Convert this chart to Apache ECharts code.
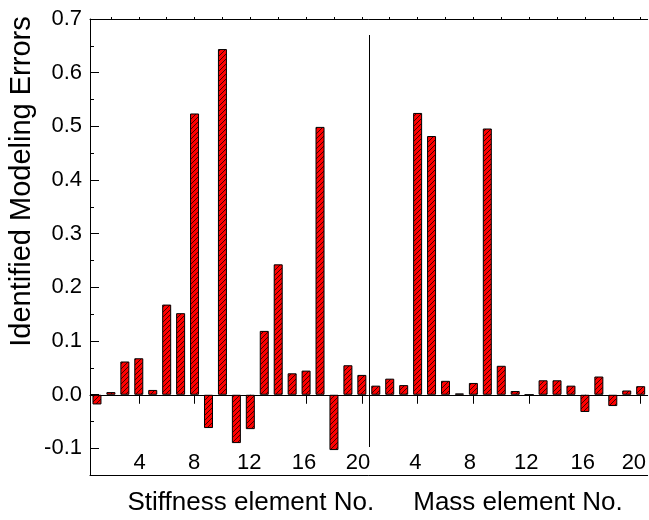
<!DOCTYPE html>
<html>
<head>
<meta charset="utf-8">
<script src="https://cdn.jsdelivr.net/npm/echarts@6/dist/echarts.min.js"></script>
<style>html,body{margin:0;padding:0;background:#fff}#c{width:649px;height:520px}</style>
</head>
<body>
<div id="c"></div>
<script>
// ---- data ----
const stiffnessElements = ['1','2','3','4','5','6','7','8','9','10','11','12','13','14','15','16','17','18','19','20'];
const massElements = ['1','2','3','4','5','6','7','8','9','10','11','12','13','14','15','16','17','18','19','20'];
const stiffnessErrors = [-0.018, 0.005, 0.062, 0.068, 0.009, 0.168, 0.152, 0.524, -0.062, 0.644,
                         -0.090, -0.064, 0.119, 0.243, 0.040, 0.045, 0.499, -0.103, 0.055, 0.037];
const massErrors = [0.017, 0.030, 0.018, 0.525, 0.482, 0.026, 0.0025, 0.022, 0.496, 0.054,
                    0.007, 0.000, 0.027, 0.027, 0.017, -0.032, 0.034, -0.021, 0.008, 0.016];
const groupTitles = ['Stiffness element No.', 'Mass element No.'];
const yTitle = 'Identified Modeling Errors';
const yMin = -0.15, yMax = 0.7, yLabelMin = -0.1, yStep = 0.1;

// ---- build ----
const FONT = '"Liberation Sans", Arial, sans-serif';
const categories = stiffnessElements.map(s => 'S' + s).concat(massElements.map(m => 'M' + m));
const values = stiffnessErrors.concat(massErrors);

function hatch() {
  const c = document.createElement('canvas');
  c.width = 5; c.height = 5;
  const g = c.getContext('2d');
  g.fillStyle = '#ff0000'; g.fillRect(0, 0, 5, 5);
  g.strokeStyle = '#000'; g.lineWidth = 0.75;
  g.beginPath(); g.moveTo(-1, 6); g.lineTo(6, -1); g.stroke();
  return c;
}

// small horizontal shifts of the tick labels (styling only)
const labelShift = {3: 1.5, 7: -0.7, 11: -2.2, 15: -4.3, 19: -7.6, 23: -4.5, 27: -7.1, 31: -5.7, 35: -4.5, 39: -13.6};
const rich = {};
Object.keys(labelShift).forEach(k => {
  const d = labelShift[k];
  rich['a' + k] = {fontSize: 22, fontFamily: FONT, color: '#000',
    padding: [0, d < 0 ? -d : 0, 0, d > 0 ? d : 0]};
});
const every4 = (i) => (i + 1) % 4 === 0;
const every2 = (i) => (i + 1) % 2 === 0;

const black = {color: '#000', width: 1};
const GL = 90, GW = 566, GT = 19;
const option = {
  animation: false,
  backgroundColor: '#fff',
  grid: [
    {left: GL, top: GT, width: GW, height: 456.3},
    {left: GL, top: GT, width: GW, height: 429.3},
    {left: GL, top: 35, width: GW, height: 412}
  ],
  xAxis: [
    {type: 'category', gridIndex: 0, data: categories, position: 'bottom',
     axisLine: {show: true, onZero: true, lineStyle: black},
     axisTick: {show: true, alignWithLabel: true, interval: every4, length: 9, lineStyle: black},
     axisLabel: {show: false}, splitLine: {show: false}},
    {type: 'category', gridIndex: 0, data: categories, position: 'top',
     axisLine: {show: true, onZero: false, lineStyle: black},
     axisTick: {show: true, alignWithLabel: true, interval: every2, length: 2, lineStyle: black},
     axisLabel: {show: false}, splitLine: {show: false}},
    {type: 'category', gridIndex: 0, data: categories, position: 'bottom',
     axisLine: {show: true, onZero: false, lineStyle: black},
     axisTick: {show: false},
     axisLabel: {show: true, inside: true, interval: every4, margin: 12.6, verticalAlign: 'middle',
       fontSize: 22, fontFamily: FONT, color: '#000',
       formatter: (v, i) => '{a' + i + '|' + v.slice(1) + '}', rich: rich},
     splitLine: {show: false}},
    {type: 'category', gridIndex: 1, data: categories, show: false},
    {type: 'category', gridIndex: 2, data: groupTitles,
     axisLine: {show: false}, axisTick: {show: false}, axisLabel: {show: false},
     splitLine: {show: true, interval: 0, lineStyle: black}}
  ],
  yAxis: [
    {type: 'value', gridIndex: 0, min: yMin, max: yMax,
     axisLine: {show: true, onZero: false, lineStyle: black},
     axisTick: {show: false}, axisLabel: {show: false}, splitLine: {show: false}},
    {type: 'value', gridIndex: 1, min: yLabelMin, max: yMax, interval: yStep,
     axisLine: {show: false, onZero: false},
     axisTick: {show: true, inside: true, length: 9, lineStyle: black},
     minorTick: {show: true, splitNumber: 2, length: 4, lineStyle: black},
     axisLabel: {show: true, margin: 8, fontSize: 22, fontFamily: FONT, color: '#000',
       formatter: v => v.toFixed(1)},
     splitLine: {show: false}},
    {type: 'value', gridIndex: 2, show: false}
  ],
  series: [{
    type: 'bar', xAxisIndex: 0, yAxisIndex: 0, data: values, barWidth: 9,
    itemStyle: {color: {image: hatch(), repeat: 'repeat'}, borderColor: '#000', borderWidth: 1}
  }],
  graphic: [
    {type: 'text', x: 22, y: 181.5, rotation: Math.PI / 2,
     style: {text: yTitle, fontSize: 29, fontFamily: FONT, fill: '#000', align: 'center', verticalAlign: 'middle'}},
    {type: 'text', x: 250.8, y: 502.5,
     style: {text: groupTitles[0], fontSize: 26, fontFamily: FONT, fill: '#000', align: 'center', verticalAlign: 'middle'}},
    {type: 'text', x: 518, y: 502.5,
     style: {text: groupTitles[1], fontSize: 26, fontFamily: FONT, fill: '#000', align: 'center', verticalAlign: 'middle'}}
  ]
};
const chart = echarts.init(document.getElementById('c'), null, {renderer: 'canvas'});
chart.setOption(option);
</script>
</body>
</html>
